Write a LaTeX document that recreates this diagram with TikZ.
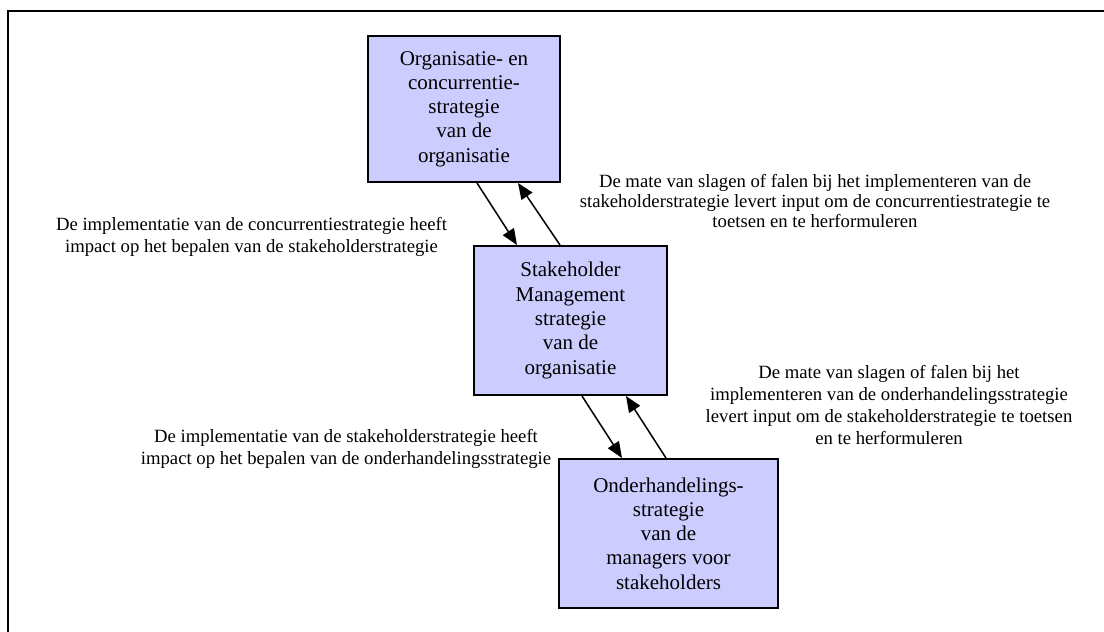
\documentclass[tikz,border=0pt]{standalone}
\usepackage{fontspec}
\setmainfont{Liberation Serif}
\usetikzlibrary{arrows.meta}
\definecolor{boxfill}{HTML}{CCCCFF}
\tikzset{
  stratbox/.style={draw=black, line width=2pt, fill=boxfill, align=center, inner sep=0pt,
    font=\fontsize{21}{24.3}\selectfont},
  lbl/.style={align=center, inner sep=0pt, font=\fontsize{18.7}{21.8}\selectfont},
  lbltight/.style={lbl, font=\fontsize{18.7}{20.2}\selectfont},
  arr/.style={line width=1.5pt, -{Triangle[length=16pt,width=13pt]}},
  frame/.style={line width=2pt}
}
\begin{document}
\begin{tikzpicture}[x=1pt,y=-1pt]
\useasboundingbox (0,0) rectangle (1104,632);
\draw[frame] (8,632) -- (8,11) -- (1104,11);

\node[stratbox, minimum width=192pt, minimum height=146pt] (b1) at (464,109)
  {Organisatie- en\\concurrentie-\\strategie\\van de\\organisatie};
\node[stratbox, minimum width=193pt, minimum height=149pt] (b2) at (570.5,320.5)
  {Stakeholder\\Management\\strategie\\van de\\organisatie};
\node[stratbox, minimum width=219pt, minimum height=149pt] (b3) at (668.5,533.5)
  {Onderhandelings-\\strategie\\van de\\managers voor\\stakeholders};

\node[lbl] (l1) at (251.5,237)
  {De implementatie van de concurrentiestrategie heeft\\impact op het bepalen van de stakeholderstrategie};
\node[lbltight] (l2) at (815,201)
  {De mate van slagen of falen bij het implementeren van de\\stakeholderstrategie levert input om de concurrentiestrategie te\\toetsen en te herformuleren};
\node[lbl] (l3) at (889,405)
  {De mate van slagen of falen bij het\\implementeren van de onderhandelingsstrategie\\levert input om de stakeholderstrategie te toetsen\\en te herformuleren};
\node[lbl] (l4) at (346,449)
  {De implementatie van de stakeholderstrategie heeft\\impact op het bepalen van de onderhandelingsstrategie};

\draw[arr] ([xshift=13pt]b1.south) -- ([xshift=-53.5pt]b2.north);
\draw[arr] ([xshift=-10.5pt]b2.north) -- ([xshift=54pt]b1.south);
\draw[arr] ([xshift=11.5pt]b2.south) -- ([xshift=-46.5pt]b3.north);
\draw[arr] ([xshift=-2.5pt]b3.north) -- ([xshift=55.5pt]b2.south);
\end{tikzpicture}
\end{document}
